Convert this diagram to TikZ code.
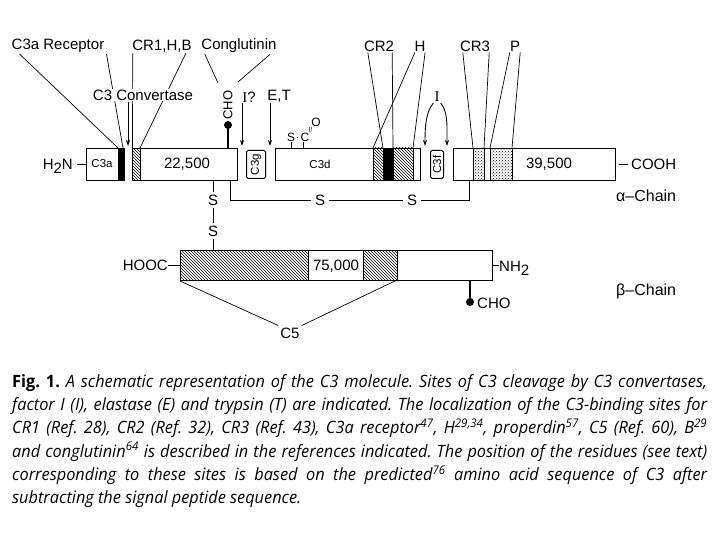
\documentclass[tikz,border=0pt]{standalone}
\usepackage{fontspec}
\setmainfont{Liberation Sans}
\newfontfamily\serifI{Liberation Serif}
\newfontfamily\capfont[FakeStretch=0.96]{Open Sans}
\usetikzlibrary{patterns,arrows.meta,calc}
\begin{document}
\begin{tikzpicture}[x=1pt,y=-1pt,
  lbl/.style={font=\fontsize{15}{18}\selectfont, inner sep=1pt},
  sml/.style={font=\fontsize{11.5}{13}\selectfont, inner sep=0pt},
  chainbox/.style={draw, line width=1pt, rectangle, inner sep=0pt, anchor=north west},
  ln/.style={line width=0.7pt},
  arr/.style={line width=0.9pt, -{Stealth[length=6pt,width=4pt]}},
  hatchband/.style={draw, line width=0.7pt, pattern=north west lines},
  dotband/.style={draw, line width=0.7pt, pattern=crosshatch dots},
  blackband/.style={draw, line width=0.7pt, fill=black},
  lolli/.style={circle, fill=black, inner sep=0pt, minimum size=8pt},
]
\useasboundingbox (0,0) rectangle (720,540);

% ---- bands ----
\path[blackband] (118,148) rectangle (124,180);
\path[hatchband] (373,148) rectangle (383,180);
\path[blackband] (383,148) rectangle (393,180);
\path[hatchband] (393,148) rectangle (413,180);
\path[dotband] (473,148) rectangle (484,180);
\path[dotband] (490,148) rectangle (512,180);
\path[hatchband] (180,250) rectangle (308,280);
\path[hatchband] (363,250) rectangle (397,280);

% ---- alpha chain ----
\node[chainbox, minimum width=38pt, minimum height=32pt] (c3a) at (86,148) {};
\node[chainbox, pattern=north west lines, minimum width=8pt, minimum height=32pt] (hb) at (132,148) {};
\node[chainbox, minimum width=97pt, minimum height=32pt] (b22) at (140,148) {};
\node[chainbox, minimum width=19pt, minimum height=28pt, rounded corners=1.5pt] (c3g) at (246,150) {};
\node[chainbox, minimum width=145pt, minimum height=32pt] (c3d) at (275,148) {};
\node[chainbox, minimum width=13pt, minimum height=28pt, rounded corners=1.5pt] (c3f) at (430,150) {};
\node[chainbox, minimum width=162pt, minimum height=32pt] (fin) at (453,148) {};

\node[sml] (t3a) at (102,164) {C3a};
\node[lbl] (t22) at (187,164) {22,500};
\node[sml, rotate=90] (t3g) at (c3g.center) {C3g};
\node[sml] (t3d) at (320,164) {C3d};
\node[sml, rotate=90] (t3f) at (c3f.center) {C3f};
\node[lbl] (t39) at (549,164) {39,500};

\node[lbl, anchor=base east, inner sep=0pt] (h2n) at (73,169.5) {H\raisebox{-4pt}{2}N};
\draw[ln, shorten <=4pt] (c3a.west -| h2n.east) -- (c3a.west);
\node[lbl, anchor=base west] (cooh) at (630,170) {COOH};
\draw[ln, shorten <=3pt, shorten >=2pt] (fin.east) -- (fin.east -| cooh.west);
\node[lbl, anchor=west, font=\fontsize{16}{18}\selectfont] (alpha) at (615,196) {α–Chain};

% ---- disulfide bonds ----
\node[lbl, inner sep=2pt] (s1) at (213,200) {S};
\node[lbl, inner sep=2pt] (s2) at (213,231) {S};
\node[lbl, inner sep=4pt] (s3) at (320,200) {S};
\node[lbl, inner sep=4pt] (s4) at (412,200) {S};
\coordinate (dsA) at (230,180);
\coordinate (dsB) at (469,180);

% ---- beta chain ----
\node[chainbox, minimum width=312pt, minimum height=30pt] (beta) at (180,250) {};
\node[lbl] (t75) at (336,266) {75,000};
\node[lbl, anchor=base east, inner sep=0pt] (hooc) at (168,270.5) {HOOC};
\draw[ln] (beta.west -| hooc.east) -- (beta.west);
\node[lbl, anchor=base west, inner sep=0pt] (nh2) at (499,271) {NH\raisebox{-4pt}{2}};
\draw[ln] (beta.east) -- (beta.east -| nh2.west);
\node[lolli] (lol2) at (470,302) {};
\draw[line width=1.6pt] (lol2.center) -- (lol2.center |- beta.south);
\node[lbl, anchor=west] (cho2) at (476,303) {CHO};
\node[lbl, anchor=west, font=\fontsize{16}{18}\selectfont] (betal) at (615,291) {β–Chain};
\node[lbl, inner sep=2pt] (c5) at (290,333) {C5};
\coordinate (c5R) at (397,280);

\draw[ln] (s1.north) -- (s1.north |- b22.south);
\draw[ln] (s1.south) -- (s2.north);
\draw[ln] (s2.south) -- (s2.south |- beta.north);
\draw[ln] (s3.west) -| (dsA);
\draw[ln] (s3.east) -- (s4.west);
\draw[ln] (s4.east) -| (dsB);
\draw[ln] (beta.south west) -- (c5.north west);
\draw[ln] (c5R) -- (c5.north east);

% ---- top labels ----
\node[lbl] (c3arec) at (58,46) {C3a Receptor};
\node[lbl] (cr1) at (162,46) {CR1,H,B};
\node[lbl] (cong) at (239,46) {Conglutinin};
\node[lbl] (cr2) at (379,46) {CR2};
\node[lbl] (hh) at (420,46) {H};
\node[lbl] (cr3) at (475,46) {CR3};
\node[lbl] (pp) at (515,46) {P};

\coordinate (e1) at (118,148);
\coordinate (e2) at (123,148);
\coordinate (e3) at (132.5,148);
\coordinate (e4) at (140,148);
\coordinate (cgA) at (218,83);
\coordinate (cgB) at (238,82);
\coordinate (e5) at (383,148);
\coordinate (e6) at (393,148);
\coordinate (e7) at (373,148);
\coordinate (e8) at (413,148);
\coordinate (e9) at (473,148);
\coordinate (e10) at (484,148);
\coordinate (e11) at (490,148);
\coordinate (e12) at (512,148);

\draw[ln] ([xshift=9pt]c3arec.south west) -- (e1);
\draw[ln] ([xshift=1pt]c3arec.south east) -- (e2);
\draw[ln] ([xshift=1.5pt]cr1.south west) -- (e3);
\draw[ln] ([xshift=-7pt]cr1.south east) -- (e4);
\draw[ln] ([xshift=4.5pt]cong.south west) -- (cgA);
\draw[ln] ([xshift=-7.5pt]cong.south east) -- (cgB);
\draw[ln] ([xshift=5pt]cr2.south west) -- (e5);
\draw[ln] ([xshift=-3pt]cr2.south east) -- (e6);
\draw[ln] ([xshift=1.5pt]hh.south west) -- (e7);
\draw[ln] ([xshift=-1.5pt]hh.south east) -- (e8);
\draw[ln] ([xshift=4pt]cr3.south west) -- (e9);
\draw[ln] ([xshift=-2pt]cr3.south east) -- (e10);
\draw[ln] ([xshift=1pt]pp.south west) -- (e11);
\draw[ln] ([xshift=-1pt]pp.south east) -- (e12);

% C3 convertase (covers lines)
\node[lbl, fill=white] (conv) at (143,95) {C3 Convertase};
\coordinate (cvEnd) at (128,146);
\draw[arr] (conv.south -| cvEnd) -- (cvEnd);

% CHO lollipop on alpha
\node[lbl, font=\fontsize{13}{15}\selectfont, rotate=90, inner sep=0pt] (cho1) at (228,105) {CHO};
\node[lolli] (lol1) at (228,125) {};
\draw[line width=1.6pt] (lol1.center) -- (lol1.center |- b22.north);

% I? and E,T
\node[lbl] (iq) at (249,97) {{\serifI I}?};
\coordinate (iqEnd) at (242,146);
\draw[arr] (iq.south -| iqEnd) -- (iqEnd);
\node[lbl] (et) at (279,96) {E,T};
\coordinate (etEnd) at (270,146);
\draw[arr] (et.south -| etEnd) -- (etEnd);

% S-C=O
\node[font=\fontsize{12}{14}\selectfont, inner sep=0.5pt] (sS) at (291,137) {S};
\node[font=\fontsize{12}{14}\selectfont, inner sep=0.5pt] (sC) at (305,137) {C};
\node[font=\fontsize{12}{14}\selectfont, inner sep=0.5pt] (sO) at (316,122) {O};
\draw[line width=0.8pt, shorten <=1.5pt, shorten >=1.5pt] (sS.east) -- (sC.west);
\draw[line width=0.5pt, double, double distance=1.2pt] (sC.north east) -- (sO.south west);
\draw[ln] (sS.south) -- (sS.south |- c3d.north);
\draw[ln] ([xshift=-2pt]sC.south) -- ([xshift=-2pt]sC.south |- c3d.north);

% I with curved arrows
\node[lbl, font=\fontsize{15}{18}\selectfont\serifI] (ii) at (437,97) {I};
\coordinate (iL) at (425,146);
\coordinate (iR) at (447,146);
\draw[arr] (ii.south west) .. controls (426,112) and (425,125) .. (iL);
\draw[arr] (ii.south east) .. controls (448,112) and (447,125) .. (iR);

% ---- caption ----
\node[anchor=north west, inner sep=0pt, text width=695pt, align=justify,
      font=\capfont\fontsize{17}{23.3}\selectfont\frenchspacing] (cap) at (12,374)
{\textbf{Fig.\ 1.} \itshape A schematic representation of the C3 molecule. Sites of C3 cleavage by C3 convertases,\linebreak
factor I (I), elastase (E) and trypsin (T) are indicated. The localization of the C3-binding sites for\linebreak
CR1 (Ref. 28), CR2 (Ref. 32), CR3 (Ref. 43), C3a receptor\textsuperscript{47}, H\textsuperscript{29,34}, properdin\textsuperscript{57}, C5 (Ref. 60), B\textsuperscript{29}\linebreak
and conglutinin\textsuperscript{64} is described in the references indicated. The position of the residues (see text)\linebreak
corresponding to these sites is based on the predicted\textsuperscript{76} amino acid sequence of C3 after\linebreak
subtracting the signal peptide sequence.};
\end{tikzpicture}
\end{document}
